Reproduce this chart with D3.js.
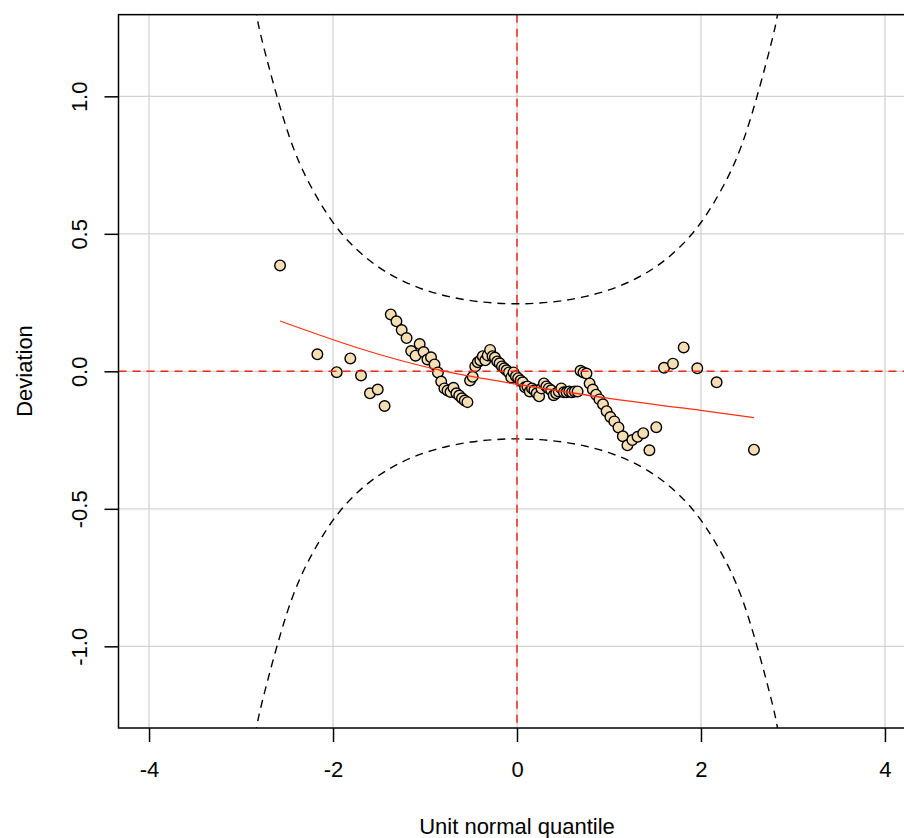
<!DOCTYPE html>
<html><head><meta charset="utf-8">
<script src="https://cdn.jsdelivr.net/npm/d3@7/dist/d3.min.js"></script>
<style>body{margin:0;background:#fff}svg{display:block;font-family:"Liberation Sans",Arial,sans-serif}</style>
</head><body>
<svg id="c" width="904" height="838"></svg>
<script>
// unit normal quantiles (x) for n = 100
const quantiles = [-2.5758,-2.1701,-1.9600,-1.8119,-1.6954,-1.5982,-1.5141,-1.4395,-1.3722,-1.3106,
-1.2536,-1.2004,-1.1503,-1.1031,-1.0581,-1.0152,-0.9741,-0.9346,-0.8965,-0.8596,
-0.8239,-0.7892,-0.7554,-0.7225,-0.6903,-0.6588,-0.6280,-0.5978,-0.5681,-0.5388,
-0.5101,-0.4817,-0.4538,-0.4261,-0.3989,-0.3719,-0.3451,-0.3186,-0.2924,-0.2663,
-0.2404,-0.2147,-0.1891,-0.1637,-0.1383,-0.1130,-0.0878,-0.0627,-0.0376,-0.0125,
0.0125,0.0376,0.0627,0.0878,0.1130,0.1383,0.1637,0.1891,0.2147,0.2404,
0.2663,0.2924,0.3186,0.3451,0.3719,0.3989,0.4261,0.4538,0.4817,0.5101,
0.5388,0.5681,0.5978,0.6280,0.6588,0.6903,0.7225,0.7554,0.7892,0.8239,
0.8596,0.8965,0.9346,0.9741,1.0152,1.0581,1.1031,1.1503,1.2004,1.2536,
1.3106,1.3722,1.4395,1.5141,1.5982,1.6954,1.8119,1.9600,2.1701,2.5758];
// deviations (y)
const deviations = [0.385,0.062,-0.003,0.047,-0.015,-0.080,-0.066,-0.126,0.207,0.182,
0.150,0.121,0.074,0.057,0.099,0.070,0.043,0.051,0.025,-0.004,
-0.037,-0.062,-0.070,-0.075,-0.060,-0.080,-0.088,-0.098,-0.106,-0.112,
-0.033,-0.020,0.018,0.033,0.040,0.055,0.040,0.058,0.078,0.055,
0.050,0.036,0.029,0.018,0.011,0.004,-0.004,-0.022,-0.004,-0.018,
-0.025,-0.033,-0.040,-0.058,-0.055,-0.073,-0.062,-0.069,-0.080,-0.091,
-0.062,-0.044,-0.055,-0.062,-0.069,-0.087,-0.080,-0.073,-0.062,-0.076,
-0.076,-0.073,-0.076,-0.073,-0.073,0.002,-0.004,-0.008,-0.044,-0.066,
-0.085,-0.102,-0.120,-0.145,-0.166,-0.182,-0.204,-0.236,-0.269,-0.250,
-0.238,-0.225,-0.287,-0.203,0.013,0.028,0.087,0.011,-0.040,-0.285];
// fitted worm curve
const fitX = [-2.576,-1.71,-0.837,0,1.0,2.0,2.576];
const fitY = [0.183,0.083,0.004,-0.047,-0.098,-0.142,-0.168];
// 95% band half-width at z (symmetric)
const bandZ = [0,0.25,0.5,0.75,1.0,1.25,1.5,1.75,2.0,2.25,2.5,2.75,2.85,3.0];
const bandW = [0.2456,0.2485,0.2571,0.2725,0.2959,0.3299,0.3779,0.4455,0.5413,0.6785,0.8784,1.1748,1.3316,1.6239];
const xTicks = [-4,-2,0,2,4];
const xTickLabels = ["-4","-2","0","2","4"];
const yTicks = [-1,-0.5,0,0.5,1];
const yTickLabels = ["-1.0","-0.5","0.0","0.5","1.0"];

const FS = 22;
const svg = d3.select("#c");
const L = 118.5, R = 915.5, T = 14.65, B = 728;
const x = d3.scaleLinear().domain([-4.332, 4.332]).range([L, R]);
const y = d3.scaleLinear().domain([-1.297, 1.297]).range([B, T]);

svg.append("clipPath").attr("id","clip").append("rect")
  .attr("x",L).attr("y",T).attr("width",R-L).attr("height",B-T);

// grid
const g = svg.append("g");
g.selectAll("line.vg").data(xTicks).join("line")
  .attr("x1",d=>x(d)).attr("x2",d=>x(d)).attr("y1",T).attr("y2",B)
  .attr("stroke","#d3d3d3").attr("stroke-width",1.3);
g.selectAll("line.hg").data(yTicks).join("line")
  .attr("y1",d=>y(d)).attr("y2",d=>y(d)).attr("x1",L).attr("x2",R)
  .attr("stroke","#d3d3d3").attr("stroke-width",1.3);

const plot = svg.append("g").attr("clip-path","url(#clip)");

// bands
const bandPts = [];
for (let i = bandZ.length-1; i > 0; i--) bandPts.push([-bandZ[i], bandW[i]]);
for (let i = 0; i < bandZ.length; i++) bandPts.push([bandZ[i], bandW[i]]);
const bandLine = d3.line().x(d=>x(d[0])).y(d=>y(d[1])).curve(d3.curveNatural);
plot.append("path").attr("d", bandLine(bandPts)).attr("fill","none")
  .attr("stroke","#000").attr("stroke-width",1.4).attr("stroke-dasharray","8,6");
plot.append("path").attr("d", bandLine(bandPts.map(d=>[d[0],-d[1]]))).attr("fill","none")
  .attr("stroke","#000").attr("stroke-width",1.4).attr("stroke-dasharray","8,6");

// points
const pts = quantiles.map((q,i)=>[q, deviations[i]]);
plot.selectAll("circle").data(pts).join("circle")
  .attr("cx",d=>x(d[0])).attr("cy",d=>y(d[1])).attr("r",5.3)
  .attr("fill","#f5deb3").attr("stroke","#000").attr("stroke-width",1.4);

// reference lines
plot.append("line").attr("x1",L).attr("x2",R).attr("y1",y(0)).attr("y2",y(0))
  .attr("stroke","#f0281a").attr("stroke-width",1.5).attr("stroke-dasharray","8,6");
plot.append("line").attr("x1",x(0)).attr("x2",x(0)).attr("y1",T).attr("y2",B)
  .attr("stroke","#f0281a").attr("stroke-width",1.5).attr("stroke-dasharray","8,6");

// fitted curve
const fitLine = d3.line().x(d=>x(d[0])).y(d=>y(d[1])).curve(d3.curveNatural);
plot.append("path").attr("d", fitLine(fitX.map((v,i)=>[v,fitY[i]]))).attr("fill","none")
  .attr("stroke","#ff3010").attr("stroke-width",1.3);

// frame
svg.append("rect").attr("x",L).attr("y",T).attr("width",R-L).attr("height",B-T)
  .attr("fill","none").attr("stroke","#000").attr("stroke-width",1.5);

// axes
const xAxis = d3.axisBottom(x).tickValues(xTicks).tickFormat((d,i)=>xTickLabels[i]).tickSize(14).tickPadding(19);
const xa = svg.append("g").attr("transform",`translate(0,${B})`).call(xAxis);
xa.select(".domain").remove();
xa.selectAll("line").attr("stroke","#000").attr("stroke-width",1.5);
xa.selectAll("text").attr("font-size",FS).attr("font-family","Liberation Sans, Arial, sans-serif").attr("fill","#000");

const yAxis = d3.axisLeft(y).tickValues(yTicks).tickFormat((d,i)=>yTickLabels[i]).tickSize(14);
const ya = svg.append("g").attr("transform",`translate(${L},0)`).call(yAxis);
ya.select(".domain").remove();
ya.selectAll("line").attr("stroke","#000").attr("stroke-width",1.5);
ya.selectAll("text")
  .attr("font-size",FS).attr("font-family","Liberation Sans, Arial, sans-serif").attr("fill","#000")
  .attr("x",null).attr("dy",null).attr("y",null)
  .attr("text-anchor","middle")
  .attr("transform",`translate(${87-L},0) rotate(-90)`);

// titles
svg.append("text").attr("x",517).attr("y",834).attr("text-anchor","middle")
  .attr("font-size",FS).text("Unit normal quantile");
svg.append("text").attr("transform","translate(31.5,371) rotate(-90)").attr("text-anchor","middle")
  .attr("font-size",FS).text("Deviation");
</script>
</body></html>
